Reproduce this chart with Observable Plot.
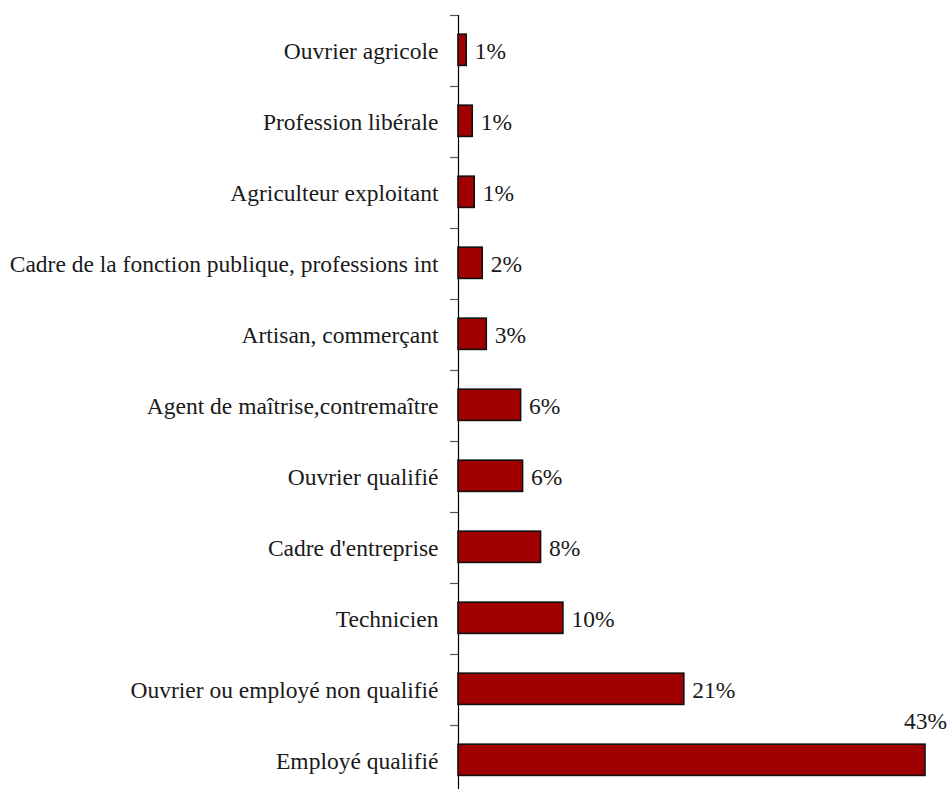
<!DOCTYPE html>
<html>
<head>
<meta charset="utf-8">
<script src="https://cdn.jsdelivr.net/npm/d3@7"></script>
<script src="https://cdn.jsdelivr.net/npm/@observablehq/plot@0.6"></script>
<style>
  html, body { margin: 0; padding: 0; background: #fff; overflow: hidden; }
  #chart svg, #chart svg text { font-family: "Liberation Serif", serif !important; }
</style>
</head>
<body>
<div id="chart"></div>
<script>
const categories = [
  "Ouvrier agricole",
  "Profession libérale",
  "Agriculteur exploitant",
  "Cadre de la fonction publique, professions int",
  "Artisan, commerçant",
  "Agent de maîtrise,contremaître",
  "Ouvrier qualifié",
  "Cadre d'entreprise",
  "Technicien",
  "Ouvrier ou employé non qualifié",
  "Employé qualifié"
];
const values = [0.75, 1.3, 1.48, 2.21, 2.58, 5.71, 5.89, 7.53, 9.57, 20.6, 42.6];
const valueLabels = ["1%", "1%", "1%", "2%", "3%", "6%", "6%", "8%", "10%", "21%", "43%"];

const data = categories.map((c, i) => ({ i, category: c, value: values[i], label: valueLabels[i] }));
const inside = data.slice(0, data.length - 1);
const last = data.slice(data.length - 1);
const boundaries = d3.range(0, categories.length + 1);

const font = "Liberation Serif";
const fs = 23.5;

const chart = Plot.plot({
  width: 949,
  height: 796,
  marginTop: 15,
  marginBottom: 0,
  marginLeft: 458,
  marginRight: 24,
  style: { fontFamily: font, fontSize: fs + "px", color: "#1a1a1a", background: "#fff" },
  x: { domain: [0, 42.6], axis: null },
  y: { domain: [0, categories.length], reverse: true, axis: null },
  marks: [
    Plot.axisY({
      ticks: categories.map((c, i) => i + 0.5),
      tickFormat: (d) => categories[Math.floor(d)],
      tickSize: 0,
      tickPadding: 20,
      fontSize: fs,
      fontFamily: font,
      fill: "#1a1a1a"
    }),
    Plot.axisY({
      ticks: boundaries,
      tickFormat: () => "",
      tickSize: 8,
      stroke: "#555",
      strokeWidth: 1.2
    }),
    Plot.ruleX([0], { y1: 0, y2: categories.length, stroke: "#000", strokeWidth: 1.2 }),
    Plot.rectX(data, {
      x1: 0,
      x2: "value",
      y1: (d) => d.i + 0.27,
      y2: (d) => d.i + 0.71,
      fill: "#a00000",
      stroke: "#111",
      strokeWidth: 1.6
    }),
    Plot.text(inside, {
      x: "value",
      y: (d) => d.i + 0.5,
      text: "label",
      dx: 8,
      textAnchor: "start",
      fontSize: fs,
      fontFamily: font,
      fill: "#1a1a1a"
    }),
    Plot.text(last, {
      x: "value",
      y: (d) => d.i + 0.5,
      text: "label",
      dy: -40,
      textAnchor: "middle",
      fontSize: fs,
      fontFamily: font,
      fill: "#1a1a1a"
    })
  ]
});
d3.select(chart).attr("font-family", font);
d3.select(chart).selectAll("g, text").attr("font-family", font).style("font-family", font);
document.getElementById("chart").appendChild(chart);
</script>
</body>
</html>
